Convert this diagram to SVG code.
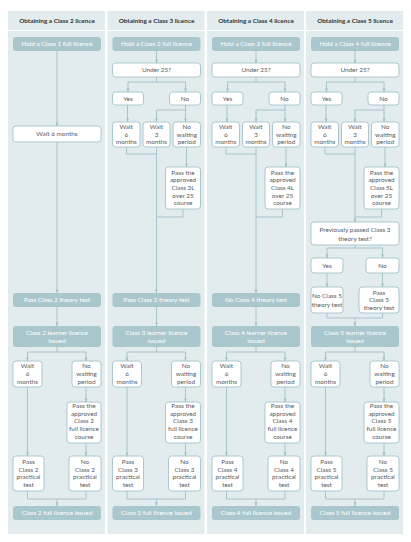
<svg xmlns="http://www.w3.org/2000/svg" width="411" height="542" viewBox="0 0 411 542">
<style>
.panel{fill:#e2ecee}
.f{fill:#a9c7cc;stroke:none}
.b{fill:#ffffff;stroke:#a3c3c9;stroke-width:0.9}
text{font-family:Lato,"Open Sans","Liberation Sans",sans-serif;font-size:6.4px;text-anchor:middle;fill:#555a5c}
.tw{fill:#ffffff}
.hd{font-weight:bold;fill:#2f3436;font-size:6.4px}
.ln{fill:none;stroke:#a0c0c6;stroke-width:0.9}
.ar{marker-end:url(#ah)}
</style>
<defs>
<marker id="ah" viewBox="0 0 10 10" refX="10" refY="5" markerWidth="3.6" markerHeight="3.6" markerUnits="userSpaceOnUse" orient="auto">
<path d="M0,1 L10,5 L0,9 z" fill="#a0c0c6"/>
</marker>
</defs>
<rect width="411" height="542" fill="#ffffff"/>

<!-- Column 1: Class 2 -->
<g id="col1" transform="translate(8,0)">
<rect class="panel" x="0" y="11" width="97" height="19"/>
<rect class="panel" x="0" y="31" width="97" height="503"/>
<text class="hd" x="49" y="23">Obtaining a Class 2 licence</text>
<g id="connectors-c1">
<path class="ln ar" d="M49 51 V126"/>
<path class="ln ar" d="M49 142 V293"/>
<path class="ln ar" d="M49 307 V326"/>
<path class="ln ar" d="M49 347 V352 H19.5 V361"/>
<path class="ln ar" d="M49 352 H78 V361"/>
<path class="ln ar" d="M78 387 V402"/>
<path class="ln ar" d="M78 443 V456"/>
<path class="ln ar" d="M19.5 387 V456"/>
<path class="ln" d="M19.5 491 V499 H78 V491"/>
<path class="ln ar" d="M49 499 V506"/>
</g>
<g id="c1-hold"><rect class="f" x="5" y="37" width="88" height="14" rx="3"/><text class="tw" x="49" y="46.3">Hold a Class 1 full licence</text></g>
<g id="c1-wait"><rect class="b" x="5" y="126" width="88" height="16" rx="3"/><text x="49" y="136.3">Wait 6 months</text></g>
<g id="c1-theory"><rect class="f" x="5" y="293" width="88" height="14" rx="3"/><text class="tw" x="49" y="302.3">Pass Class 2 theory test</text></g>
<g id="c1-learner"><rect class="f" x="5" y="326" width="88" height="21" rx="3"/><text class="tw" x="49" y="334.8">Class 2 learner licence</text><text class="tw" x="49" y="342.8">issued</text></g>
<g id="c1-wait6"><rect class="b" x="5" y="361" width="29" height="26" rx="3"/><text x="19.5" y="367.8">Wait</text><text x="19.5" y="375.8">6</text><text x="19.5" y="383.8">months</text></g>
<g id="c1-nowait"><rect class="b" x="64" y="361" width="29" height="26" rx="3"/><text x="78.5" y="367.8">No</text><text x="78.5" y="375.8">waiting</text><text x="78.5" y="383.8">period</text></g>
<g id="c1-course"><rect class="b" x="59" y="402" width="34" height="41" rx="3"/><text x="76" y="408">Pass the</text><text x="76" y="415.7">approved</text><text x="76" y="423.4">Class 2</text><text x="76" y="431.1">full licence</text><text x="76" y="438.8">course</text></g>
<g id="c1-pass"><rect class="b" x="5" y="456" width="31" height="35" rx="3"/><text x="20.5" y="464">Pass</text><text x="20.5" y="471.7">Class 2</text><text x="20.5" y="479.4">practical</text><text x="20.5" y="487.1">test</text></g>
<g id="c1-nopractical"><rect class="b" x="61" y="456" width="32" height="35" rx="3"/><text x="77" y="464">No</text><text x="77" y="471.7">Class 2</text><text x="77" y="479.4">practical</text><text x="77" y="487.1">test</text></g>
<g id="c1-full"><rect class="f" x="5" y="506" width="88" height="14" rx="3"/><text class="tw" x="49" y="515.3">Class 2 full licence issued</text></g>
</g>

<!-- Column 2: Class 3 -->
<g id="col2" transform="translate(107.5,0)">
<rect class="panel" x="0" y="11" width="97" height="19"/>
<rect class="panel" x="0" y="31" width="97" height="503"/>
<text class="hd" x="49" y="23">Obtaining a Class 3 licence</text>
<g id="connectors-c2">
<path class="ln ar" d="M49 51 V63"/>
<path class="ln ar" d="M49 77 V82 H20.5 V92"/>
<path class="ln ar" d="M49 82 H78 V92"/>
<path class="ln ar" d="M20 105 V122"/>
<path class="ln ar" d="M78 105 V110 H49 V122"/>
<path class="ln ar" d="M78 110 V122"/>
<path class="ln" d="M19 147 V154 H49"/>
<path class="ln ar" d="M49 147 V293"/>
<path class="ln ar" d="M79 147 V167"/>
<path class="ln" d="M75.5 209 V217 H49"/>
<path class="ln ar" d="M49 307 V326"/>
<path class="ln ar" d="M49 347 V352 H19.5 V361"/>
<path class="ln ar" d="M49 352 H78 V361"/>
<path class="ln ar" d="M78 387 V402"/>
<path class="ln ar" d="M78 443 V456"/>
<path class="ln ar" d="M19.5 387 V456"/>
<path class="ln" d="M19.5 491 V499 H78 V491"/>
<path class="ln ar" d="M49 499 V506"/>
</g>
<g id="c2-hold"><rect class="f" x="5" y="37" width="88" height="14" rx="3"/><text class="tw" x="49" y="46.3">Hold a Class 2 full licence</text></g>
<g id="c2-under25"><rect class="b" x="5" y="63" width="88" height="14" rx="3"/><text x="49" y="72.3">Under 25?</text></g>
<g id="c2-yes"><rect class="b" x="5" y="92" width="31" height="13" rx="3"/><text x="20.5" y="100.8">Yes</text></g>
<g id="c2-no"><rect class="b" x="62" y="92" width="31" height="13" rx="3"/><text x="77.5" y="100.8">No</text></g>
<g id="c2-wait6"><rect class="b" x="5" y="122" width="27.5" height="25" rx="3"/><text x="18.75" y="129.3">Wait</text><text x="18.75" y="136.8">6</text><text x="18.75" y="144.3">months</text></g>
<g id="c2-wait3"><rect class="b" x="35.5" y="122" width="27" height="25" rx="3"/><text x="49" y="129.3">Wait</text><text x="49" y="136.8">3</text><text x="49" y="144.3">months</text></g>
<g id="c2-nowait"><rect class="b" x="65.5" y="122" width="27.5" height="25" rx="3"/><text x="79.25" y="129.3">No</text><text x="79.25" y="136.8">waiting</text><text x="79.25" y="144.3">period</text></g>
<g id="c2-over25"><rect class="b" x="58" y="167" width="35" height="42" rx="3"/><text x="75.5" y="174.6">Pass the</text><text x="75.5" y="182.3">approved</text><text x="75.5" y="190">Class 3L</text><text x="75.5" y="197.7">over 25</text><text x="75.5" y="205.4">course</text></g>
<g id="c2-theory"><rect class="f" x="5" y="293" width="88" height="14" rx="3"/><text class="tw" x="49" y="302.3">Pass Class 3 theory test</text></g>
<g id="c2-learner"><rect class="f" x="5" y="326" width="88" height="21" rx="3"/><text class="tw" x="49" y="334.8">Class 3 learner licence</text><text class="tw" x="49" y="342.8">issued</text></g>
<g id="c2-wait6b"><rect class="b" x="5" y="361" width="29" height="26" rx="3"/><text x="19.5" y="367.8">Wait</text><text x="19.5" y="375.8">6</text><text x="19.5" y="383.8">months</text></g>
<g id="c2-nowaitb"><rect class="b" x="64" y="361" width="29" height="26" rx="3"/><text x="78.5" y="367.8">No</text><text x="78.5" y="375.8">waiting</text><text x="78.5" y="383.8">period</text></g>
<g id="c2-course"><rect class="b" x="58" y="402" width="35" height="41" rx="3"/><text x="75.5" y="408">Pass the</text><text x="75.5" y="415.7">approved</text><text x="75.5" y="423.4">Class 3</text><text x="75.5" y="431.1">full licence</text><text x="75.5" y="438.8">course</text></g>
<g id="c2-pass"><rect class="b" x="5" y="456" width="31" height="35" rx="3"/><text x="20.5" y="464">Pass</text><text x="20.5" y="471.7">Class 3</text><text x="20.5" y="479.4">practical</text><text x="20.5" y="487.1">test</text></g>
<g id="c2-nopractical"><rect class="b" x="61" y="456" width="32" height="35" rx="3"/><text x="77" y="464">No</text><text x="77" y="471.7">Class 3</text><text x="77" y="479.4">practical</text><text x="77" y="487.1">test</text></g>
<g id="c2-full"><rect class="f" x="5" y="506" width="88" height="14" rx="3"/><text class="tw" x="49" y="515.3">Class 3 full licence issued</text></g>
</g>

<!-- Column 3: Class 4 -->
<g id="col3" transform="translate(207,0)">
<rect class="panel" x="0" y="11" width="97" height="19"/>
<rect class="panel" x="0" y="31" width="97" height="503"/>
<text class="hd" x="49" y="23">Obtaining a Class 4 licence</text>
<g id="connectors-c3">
<path class="ln ar" d="M49 51 V63"/>
<path class="ln ar" d="M49 77 V82 H20.5 V92"/>
<path class="ln ar" d="M49 82 H78 V92"/>
<path class="ln ar" d="M20 105 V122"/>
<path class="ln ar" d="M78 105 V110 H49 V122"/>
<path class="ln ar" d="M78 110 V122"/>
<path class="ln" d="M19 147 V154 H49"/>
<path class="ln ar" d="M49 147 V293"/>
<path class="ln ar" d="M79 147 V167"/>
<path class="ln" d="M75.5 209 V217 H49"/>
<path class="ln ar" d="M49 307 V326"/>
<path class="ln ar" d="M49 347 V352 H19.5 V361"/>
<path class="ln ar" d="M49 352 H78 V361"/>
<path class="ln ar" d="M78 387 V402"/>
<path class="ln ar" d="M78 443 V456"/>
<path class="ln ar" d="M19.5 387 V456"/>
<path class="ln" d="M19.5 491 V499 H78 V491"/>
<path class="ln ar" d="M49 499 V506"/>
</g>
<g id="c3-hold"><rect class="f" x="5" y="37" width="88" height="14" rx="3"/><text class="tw" x="49" y="46.3">Hold a Class 2 full licence</text></g>
<g id="c3-under25"><rect class="b" x="5" y="63" width="88" height="14" rx="3"/><text x="49" y="72.3">Under 25?</text></g>
<g id="c3-yes"><rect class="b" x="5" y="92" width="31" height="13" rx="3"/><text x="20.5" y="100.8">Yes</text></g>
<g id="c3-no"><rect class="b" x="62" y="92" width="31" height="13" rx="3"/><text x="77.5" y="100.8">No</text></g>
<g id="c3-wait6"><rect class="b" x="5" y="122" width="27.5" height="25" rx="3"/><text x="18.75" y="129.3">Wait</text><text x="18.75" y="136.8">6</text><text x="18.75" y="144.3">months</text></g>
<g id="c3-wait3"><rect class="b" x="35.5" y="122" width="27" height="25" rx="3"/><text x="49" y="129.3">Wait</text><text x="49" y="136.8">3</text><text x="49" y="144.3">months</text></g>
<g id="c3-nowait"><rect class="b" x="65.5" y="122" width="27.5" height="25" rx="3"/><text x="79.25" y="129.3">No</text><text x="79.25" y="136.8">waiting</text><text x="79.25" y="144.3">period</text></g>
<g id="c3-over25"><rect class="b" x="58" y="167" width="35" height="42" rx="3"/><text x="75.5" y="174.6">Pass the</text><text x="75.5" y="182.3">approved</text><text x="75.5" y="190">Class 4L</text><text x="75.5" y="197.7">over 25</text><text x="75.5" y="205.4">course</text></g>
<g id="c3-theory"><rect class="f" x="5" y="293" width="88" height="14" rx="3"/><text class="tw" x="49" y="302.3">No Class 4 theory test</text></g>
<g id="c3-learner"><rect class="f" x="5" y="326" width="88" height="21" rx="3"/><text class="tw" x="49" y="334.8">Class 4 learner licence</text><text class="tw" x="49" y="342.8">issued</text></g>
<g id="c3-wait6b"><rect class="b" x="5" y="361" width="29" height="26" rx="3"/><text x="19.5" y="367.8">Wait</text><text x="19.5" y="375.8">6</text><text x="19.5" y="383.8">months</text></g>
<g id="c3-nowaitb"><rect class="b" x="64" y="361" width="29" height="26" rx="3"/><text x="78.5" y="367.8">No</text><text x="78.5" y="375.8">waiting</text><text x="78.5" y="383.8">period</text></g>
<g id="c3-course"><rect class="b" x="58" y="402" width="35" height="41" rx="3"/><text x="75.5" y="408">Pass the</text><text x="75.5" y="415.7">approved</text><text x="75.5" y="423.4">Class 4</text><text x="75.5" y="431.1">full licence</text><text x="75.5" y="438.8">course</text></g>
<g id="c3-pass"><rect class="b" x="5" y="456" width="31" height="35" rx="3"/><text x="20.5" y="464">Pass</text><text x="20.5" y="471.7">Class 4</text><text x="20.5" y="479.4">practical</text><text x="20.5" y="487.1">test</text></g>
<g id="c3-nopractical"><rect class="b" x="61" y="456" width="32" height="35" rx="3"/><text x="77" y="464">No</text><text x="77" y="471.7">Class 4</text><text x="77" y="479.4">practical</text><text x="77" y="487.1">test</text></g>
<g id="c3-full"><rect class="f" x="5" y="506" width="88" height="14" rx="3"/><text class="tw" x="49" y="515.3">Class 4 full licence issued</text></g>
</g>

<!-- Column 4: Class 5 -->
<g id="col4" transform="translate(306,0)">
<rect class="panel" x="0" y="11" width="97" height="19"/>
<rect class="panel" x="0" y="31" width="97" height="503"/>
<text class="hd" x="49" y="23">Obtaining a Class 5 licence</text>
<g id="connectors-c4">
<path class="ln ar" d="M49 51 V63"/>
<path class="ln ar" d="M49 77 V82 H20.5 V92"/>
<path class="ln ar" d="M49 82 H78 V92"/>
<path class="ln ar" d="M20 105 V122"/>
<path class="ln ar" d="M78 105 V110 H49 V122"/>
<path class="ln ar" d="M78 110 V122"/>
<path class="ln" d="M19 147 V154 H49"/>
<path class="ln ar" d="M49 147 V222"/>
<path class="ln ar" d="M79 147 V167"/>
<path class="ln" d="M75.5 209 V217 H49"/>
<path class="ln ar" d="M49 245 V248 H21 V258"/>
<path class="ln ar" d="M49 248 H76.5 V258"/>
<path class="ln ar" d="M21 273 V287"/>
<path class="ln ar" d="M76.5 273 V287"/>
<path class="ln" d="M21 313 V318 H76.5 V313"/>
<path class="ln ar" d="M49 318 V326"/>
<path class="ln ar" d="M49 347 V352 H19.5 V361"/>
<path class="ln ar" d="M49 352 H78 V361"/>
<path class="ln ar" d="M78 387 V402"/>
<path class="ln ar" d="M78 443 V456"/>
<path class="ln ar" d="M19.5 387 V456"/>
<path class="ln" d="M19.5 491 V499 H78 V491"/>
<path class="ln ar" d="M49 499 V506"/>
</g>
<g id="c4-hold"><rect class="f" x="5" y="37" width="88" height="14" rx="3"/><text class="tw" x="49" y="46.3">Hold a Class 4 full licence</text></g>
<g id="c4-under25"><rect class="b" x="5" y="63" width="88" height="14" rx="3"/><text x="49" y="72.3">Under 25?</text></g>
<g id="c4-yes"><rect class="b" x="5" y="92" width="31" height="13" rx="3"/><text x="20.5" y="100.8">Yes</text></g>
<g id="c4-no"><rect class="b" x="62" y="92" width="31" height="13" rx="3"/><text x="77.5" y="100.8">No</text></g>
<g id="c4-wait6"><rect class="b" x="5" y="122" width="27.5" height="25" rx="3"/><text x="18.75" y="129.3">Wait</text><text x="18.75" y="136.8">6</text><text x="18.75" y="144.3">months</text></g>
<g id="c4-wait3"><rect class="b" x="35.5" y="122" width="27" height="25" rx="3"/><text x="49" y="129.3">Wait</text><text x="49" y="136.8">3</text><text x="49" y="144.3">months</text></g>
<g id="c4-nowait"><rect class="b" x="65.5" y="122" width="27.5" height="25" rx="3"/><text x="79.25" y="129.3">No</text><text x="79.25" y="136.8">waiting</text><text x="79.25" y="144.3">period</text></g>
<g id="c4-over25"><rect class="b" x="58" y="167" width="35" height="42" rx="3"/><text x="75.5" y="174.6">Pass the</text><text x="75.5" y="182.3">approved</text><text x="75.5" y="190">Class 5L</text><text x="75.5" y="197.7">over 25</text><text x="75.5" y="205.4">course</text></g>
<g id="c4-previous"><rect class="b" x="5" y="222" width="88" height="23" rx="3"/><text x="49" y="232.3">Previously passed Class 3</text><text x="49" y="240.6">theory test?</text></g>
<g id="c4-yes2"><rect class="b" x="5" y="258" width="32" height="15" rx="3"/><text x="21" y="267.8">Yes</text></g>
<g id="c4-no2"><rect class="b" x="60" y="258" width="33" height="15" rx="3"/><text x="76.5" y="267.8">No</text></g>
<g id="c4-notheory"><rect class="b" x="5" y="287" width="32" height="26" rx="3"/><text x="21" y="298.3">No Class 5</text><text x="21" y="306.6">theory test</text></g>
<g id="c4-passtheory"><rect class="b" x="53" y="287" width="40" height="26" rx="3"/><text x="73" y="295">Pass</text><text x="73" y="302.3">Class 5</text><text x="73" y="309.6">theory test</text></g>
<g id="c4-learner"><rect class="f" x="5" y="326" width="88" height="21" rx="3"/><text class="tw" x="49" y="334.8">Class 5 learner licence</text><text class="tw" x="49" y="342.8">issued</text></g>
<g id="c4-wait6b"><rect class="b" x="5" y="361" width="29" height="26" rx="3"/><text x="19.5" y="367.8">Wait</text><text x="19.5" y="375.8">6</text><text x="19.5" y="383.8">months</text></g>
<g id="c4-nowaitb"><rect class="b" x="64" y="361" width="29" height="26" rx="3"/><text x="78.5" y="367.8">No</text><text x="78.5" y="375.8">waiting</text><text x="78.5" y="383.8">period</text></g>
<g id="c4-course"><rect class="b" x="58" y="402" width="35" height="41" rx="3"/><text x="75.5" y="408">Pass the</text><text x="75.5" y="415.7">approved</text><text x="75.5" y="423.4">Class 5</text><text x="75.5" y="431.1">full licence</text><text x="75.5" y="438.8">course</text></g>
<g id="c4-pass"><rect class="b" x="5" y="456" width="31" height="35" rx="3"/><text x="20.5" y="464">Pass</text><text x="20.5" y="471.7">Class 5</text><text x="20.5" y="479.4">practical</text><text x="20.5" y="487.1">test</text></g>
<g id="c4-nopractical"><rect class="b" x="61" y="456" width="32" height="35" rx="3"/><text x="77" y="464">No</text><text x="77" y="471.7">Class 5</text><text x="77" y="479.4">practical</text><text x="77" y="487.1">test</text></g>
<g id="c4-full"><rect class="f" x="5" y="506" width="88" height="14" rx="3"/><text class="tw" x="49" y="515.3">Class 5 full licence issued</text></g>
</g>
</svg>
